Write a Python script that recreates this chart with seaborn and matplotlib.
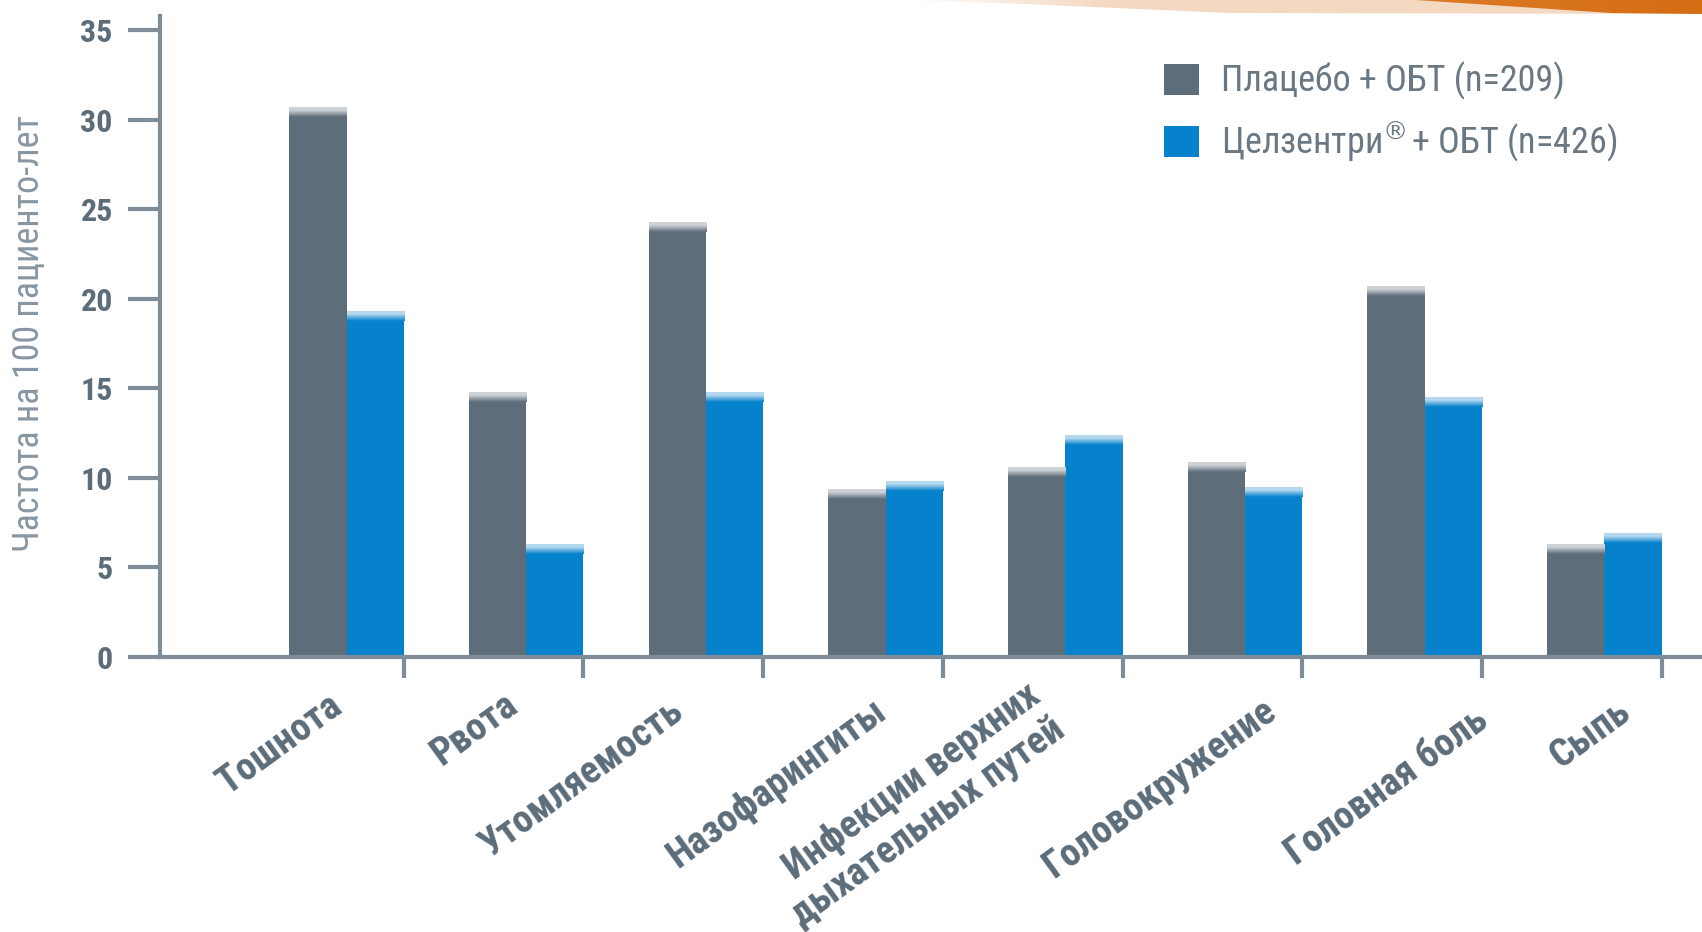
import numpy as np
import pandas as pd
import seaborn as sns
import matplotlib.pyplot as plt
from matplotlib import font_manager
from matplotlib.patches import Patch, Polygon
from matplotlib.colors import to_rgb
from matplotlib.transforms import ScaledTranslation

# ---- data -------------------------------------------------------------
categories = [
    "Тошнота",
    "Рвота",
    "Утомляемость",
    "Назофарингиты",
    "Инфекции верхних\nдыхательных путей",
    "Головокружение",
    "Головная боль",
    "Сыпь",
]
placebo = [30.7, 14.8, 24.3, 9.4, 10.6, 10.9, 20.7, 6.3]
celsentri = [19.3, 6.3, 14.8, 9.8, 12.4, 9.5, 14.5, 6.9]
series_labels = ["Плацебо + ОБТ (n=209)", "Целзентри$^{®}\\!$ + ОБТ (n=426)"]
y_ticks = [0, 5, 10, 15, 20, 25, 30, 35]
y_title = "Частота на 100 пациенто-лет"

# ---- layout / style ---------------------------------------------------
# per-label nudges (points) for the slanted category names
label_nudge = [(-14, 8), (-17, 9), (-27, 4), (-10, 5), (-29, 16), (12, 5), (35, -2), (8, 4)]

GRAY = "#5e6d7a"
BLUE = "#0681cb"
AXIS = "#7f8d98"
LABEL = "#5c6c79"
TITLE = "#8796a2"
LEGEND_TXT = "#6a7884"

installed = {f.name for f in font_manager.fontManager.ttflist}
NARROW = next((f for f in ["Roboto Condensed", "Liberation Sans Narrow",
                           "Liberation Sans"] if f in installed), "DejaVu Sans")

sns.set_theme(style="white")
plt.rcParams["font.family"] = [NARROW, "DejaVu Sans"]

W, H = 1702, 932
fig = plt.figure(figsize=(W / 100, H / 100), dpi=100, facecolor="white")
ax = fig.add_axes([160 / W, 1 - 657 / H, (W - 160) / W, (657 - 16) / H])

df = pd.DataFrame({
    "cat": categories * 2,
    "val": placebo + celsentri,
    "grp": [series_labels[0]] * len(categories) + [series_labels[1]] * len(categories),
})

group_width = 0.637
sns.barplot(data=df, x="cat", y="val", hue="grp", order=categories,
            hue_order=series_labels, palette=[GRAY, BLUE], width=group_width,
            gap=0, saturation=1, linewidth=0, legend=False, ax=ax)

# glossy highlight along the top edge of each bar
strip = 0.55
for p in list(ax.patches):
    h = p.get_height()
    if h <= 0:
        continue
    base = np.array(to_rgb(p.get_facecolor()))
    light = base + (1 - base) * 0.7
    n = 40
    t = np.linspace(0, 1, n)
    mix = np.clip((t - 0.3) / 0.7, 0, 1)[:, None]
    cols = light * (1 - mix) + base * mix
    ax.imshow(cols[:, None, :], extent=(p.get_x(), p.get_x() + p.get_width(), h - strip, h),
              origin="upper", aspect="auto", interpolation="bilinear",
              zorder=p.get_zorder() + 0.1)

ax.set_xlim(-1.038, 7.543)
ax.set_ylim(0, 35.8)
ax.set_xlabel("")
ax.set_ylabel("")

for s in ["top", "right"]:
    ax.spines[s].set_visible(False)
for s in ["left", "bottom"]:
    ax.spines[s].set_color(AXIS)
    ax.spines[s].set_linewidth(3)

ax.set_yticks(y_ticks)
ax.set_yticklabels([str(v) for v in y_ticks])
ax.tick_params(axis="y", length=23, width=3, color=AXIS, pad=11,
               labelsize=23, labelcolor=LABEL, left=True)
for lbl in ax.get_yticklabels():
    lbl.set_fontweight("bold")

x = np.arange(len(categories))
ax.set_xticks(x)
ax.set_xticklabels(categories, rotation=36, ha="right", va="top",
                   rotation_mode="anchor")
ax.tick_params(axis="x", which="major", length=0, pad=30,
               labelsize=28, labelcolor=LABEL)
for lbl, (dx, dy) in zip(ax.get_xticklabels(), label_nudge):
    lbl.set_fontweight("bold")
    lbl.set_transform(lbl.get_transform() + ScaledTranslation(dx / 72, dy / 72, fig.dpi_scale_trans))
ax.set_xticks(x + group_width / 2, minor=True)
ax.tick_params(axis="x", which="minor", length=15, width=3, color=AXIS,
               direction="out", bottom=True)

fig.text(29 / W, 1 - 334 / H, y_title, rotation=90, ha="center", va="center",
         fontsize=26, color=TITLE)

handles = [Patch(facecolor=GRAY, linewidth=0), Patch(facecolor=BLUE, linewidth=0)]
leg = ax.legend(handles, series_labels, loc="upper left",
                bbox_to_anchor=(1164 / W, 1 - 62 / H), bbox_transform=fig.transFigure,
                frameon=False, handlelength=0.97, handleheight=0.97,
                handletextpad=0.6, labelspacing=0.55, borderpad=0, borderaxespad=0,
                fontsize=26)
for t in leg.get_texts():
    t.set_color(LEGEND_TXT)

# decorative swoosh across the top edge
band = fig.add_axes([0, 1 - 20 / H, 1, 20 / H])
band.set_xlim(0, W)
band.set_ylim(20, 0)
band.axis("off")
g = np.linspace(0, 1, 256)
pale_poly = Polygon([(900, 0), (1000, 3), (1230, 13), (W, 14), (W, 0)],
                    closed=True, transform=band.transData, facecolor="none",
                    edgecolor="none")
band.add_patch(pale_poly)
c0, c1 = np.array(to_rgb("#ffffff")), np.array(to_rgb("#f4d9c2"))
ramp = np.clip(g / 0.25, 0, 1)[:, None]
pale = (c0 * (1 - ramp) + c1 * ramp)[None, :, :]
im1 = band.imshow(pale, extent=(900, W, 20, 0), aspect="auto")
im1.set_clip_path(pale_poly)
orange_poly = Polygon([(1415, 0), (1611, 13), (W, 14), (W, 0)], closed=True,
                      transform=band.transData, facecolor="none", edgecolor="none")
band.add_patch(orange_poly)
o0, o1 = np.array(to_rgb("#dc7a26")), np.array(to_rgb("#d46e15"))
orng = (o0 * (1 - g[:, None]) + o1 * g[:, None])[None, :, :]
im2 = band.imshow(orng, extent=(1415, W, 20, 0), aspect="auto")
im2.set_clip_path(orange_poly)

fig.savefig("out.png", dpi=100, facecolor="white")
